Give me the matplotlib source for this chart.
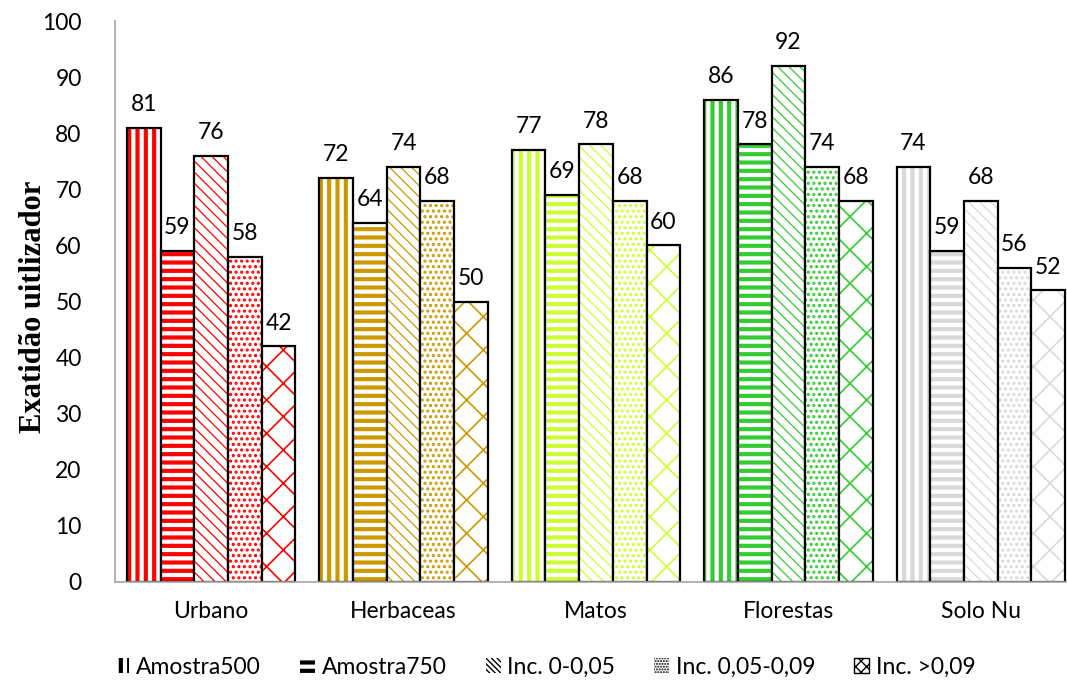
import numpy as np
import matplotlib
matplotlib.use('Agg')
import matplotlib.pyplot as plt
from matplotlib.patches import Patch

# Accuracy per land cover class and sample / slope subset
classes = ['Urbano', 'Herbaceas', 'Matos', 'Florestas', 'Solo Nu']
series = ['Amostra500', 'Amostra750', 'Inc. 0-0,05', 'Inc. 0,05-0,09', 'Inc. >0,09']
amostra500 = [81, 72, 77, 86, 74]
amostra750 = [59, 64, 69, 78, 59]
inc_0_005 = [76, 74, 78, 92, 68]
inc_005_009 = [58, 68, 68, 74, 56]
inc_009 = [42, 50, 60, 68, 52]
values = [amostra500, amostra750, inc_0_005, inc_005_009, inc_009]

class_colors = ['#FF0000', '#CC9900', '#CCFF33', '#33CC33', '#D9D9D9']
hatches = ['||', '--', '\\\\\\', '...', 'x']
hatch_widths = [3.0, 3.0, 0.9, 1.5, 1.2]
# denser versions for the small legend keys
legend_hatches = ['||', '--', '\\\\\\\\\\\\', '......', 'xxx']
legend_hatch_widths = [3.0, 3.0, 1.0, 1.0, 1.0]

plt.rcParams['font.family'] = ['Lato', 'DejaVu Sans']

fig = plt.figure(figsize=(10.67, 6.86), dpi=100)
ax = fig.add_axes([115 / 1067, 1 - 582 / 686, (1077 - 115) / 1067, (582 - 21) / 686])

x = np.arange(len(classes))
width = 0.175
for i, vals in enumerate(values):
    pos = x + (i - 2) * width
    with plt.rc_context({'hatch.linewidth': hatch_widths[i]}):
        ax.bar(pos, vals, width, color='white', edgecolor=class_colors,
               hatch=hatches[i], linewidth=0)
    bars = ax.bar(pos, vals, width, fill=False, edgecolor='black', linewidth=1.6)
    for b, v in zip(bars, vals):
        ax.annotate(str(v), (b.get_x() + b.get_width() / 2, v),
                    xytext=(0, 12), textcoords='offset points',
                    ha='center', va='baseline', fontsize=16.5)

ax.set_xlim(-0.5, 4.5)
ax.set_ylim(0, 100)
ax.set_yticks(range(0, 101, 10))
ax.set_xticks(x)
ax.set_xticklabels(classes)
ax.tick_params(axis='both', length=0, labelsize=16.5)
ax.tick_params(axis='y', pad=24)
ax.tick_params(axis='x', pad=14)
for s in ['top', 'right']:
    ax.spines[s].set_visible(False)
for s in ['left', 'bottom']:
    ax.spines[s].set_color('#A6A6A6')
    ax.spines[s].set_linewidth(1.2)

ax.set_ylabel('Exatidão uitlizador', family='Liberation Serif',
              fontweight='bold', fontsize=22)
ax.yaxis.set_label_coords(-0.07, 0.49)

handles = [Patch(facecolor='white', edgecolor='black', hatch=legend_hatches[i],
                 linewidth=1.0 if i == 4 else 0, label=name)
           for i, name in enumerate(series)]
leg = fig.legend(handles=handles, loc='center', bbox_to_anchor=(0.511, 1 - 667 / 686),
                 ncol=5, frameon=False, fontsize=16.5, handlelength=0.65,
                 handleheight=0.6, handletextpad=0.3, columnspacing=1.7)
# thicker hatch strokes for the striped keys
for p, w in zip(leg.get_patches(), legend_hatch_widths):
    if hasattr(p, 'set_hatch_linewidth'):
        p.set_hatch_linewidth(w)
    else:
        p._hatch_linewidth = w

fig.savefig('out.png', dpi=100)
